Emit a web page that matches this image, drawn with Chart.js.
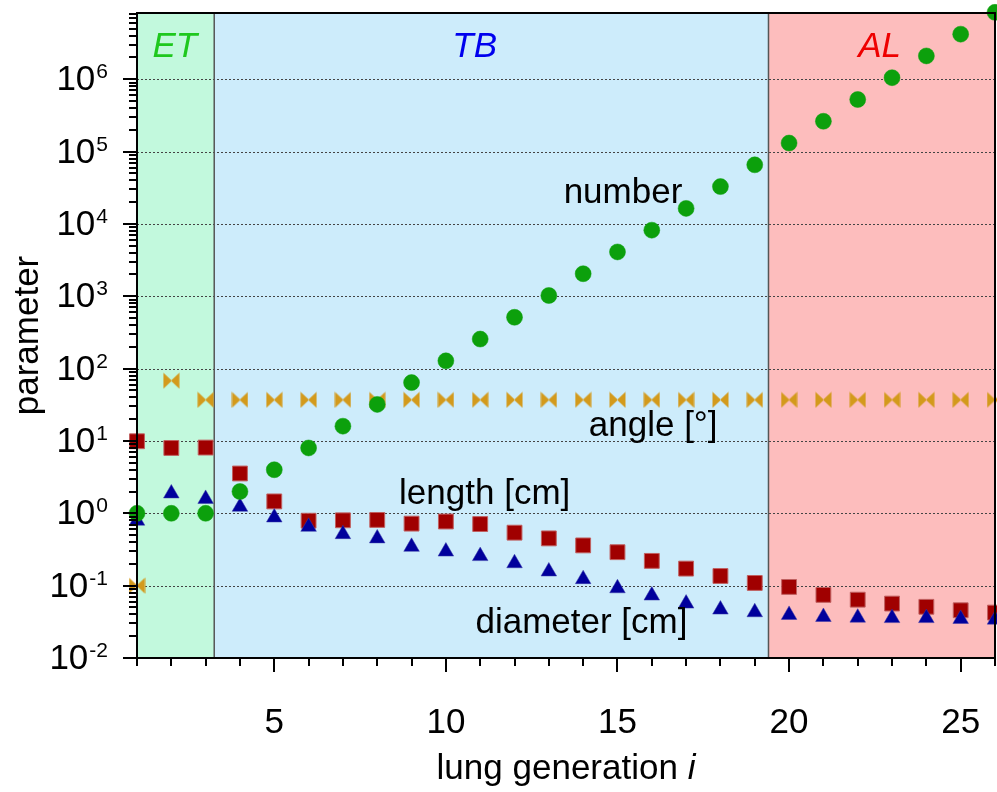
<!DOCTYPE html>
<html>
<head>
<meta charset="utf-8">
<script src="https://cdn.jsdelivr.net/npm/chart.js@4.4.1/dist/chart.umd.min.js"></script>
<style>
  html, body { margin: 0; padding: 0; background: #fff; }
  #wrap { width: 997px; height: 792px; position: relative; }
</style>
</head>
<body>
<div id="wrap"><canvas id="lungChart"></canvas></div>
<script>
// lung generation i
const generations = [1, 2, 3, 4, 5, 6, 7, 8, 9, 10, 11, 12, 13, 14, 15, 16, 17, 18, 19, 20, 21, 22, 23, 24, 25, 26];

// values
const numberValues = [1, 1, 1, 2, 4, 8, 16, 32, 64, 128, 256, 512, 1024, 2048, 4096, 8192,
  16384, 32768, 65536, 131072, 262144, 524288, 1048576, 2097152, 4194304, 8388608];
const angleValues = [0.1, 68, 37, 37, 37, 37, 37, 37, 37, 37, 37, 37, 37, 37, 37, 37,
  37, 37, 37, 37, 37, 37, 37, 37, 37, 37];
const lengthValues = [9.9, 8.0, 8.1, 3.55, 1.46, 0.79, 0.8, 0.81, 0.72, 0.77, 0.71, 0.54, 0.45, 0.36, 0.29, 0.22,
  0.172, 0.136, 0.109, 0.096, 0.0745, 0.064, 0.0565, 0.051, 0.0457, 0.0424];
const diameterValues = [0.79, 1.88, 1.58, 1.23, 0.875, 0.65, 0.515, 0.45, 0.344, 0.296, 0.256, 0.204, 0.157, 0.123, 0.092, 0.073,
  0.0565, 0.0467, 0.0429, 0.0394, 0.0369, 0.0361, 0.0356, 0.0356, 0.0347, 0.0339];

// regions along the x axis
const regionNames = ["ET", "TB", "AL"];
const regionEdges = [1, 3.25, 19.4, 26];

// axis ticks
const xTickLabels = [5, 10, 15, 20, 25];
const yDecades = [-2, -1, 0, 1, 2, 3, 4, 5, 6];

const FONT = "'Liberation Sans', Arial, sans-serif";

function makeBowtie(color) {
    const c = document.createElement("canvas");
    c.width = 17;
    c.height = 17;
    const g = c.getContext("2d");
    g.fillStyle = color;
    g.beginPath();
    g.moveTo(0.5, 0.5); g.lineTo(9, 8.5); g.lineTo(0.5, 16.5); g.closePath();
    g.moveTo(16.5, 0.5); g.lineTo(8, 8.5); g.lineTo(16.5, 16.5); g.closePath();
    g.fill();
    return c;
}

function toPoints(values) {
    return generations.map((g, k) => ({ x: g, y: values[k] }));
}

const lungDecor = {
    id: "lungDecor",
    beforeDatasetsDraw(chart) {
        const { ctx, chartArea: a, scales: { x, y } } = chart;
        const fills = ["#c2f9dd", "#cdecfb", "#fdbdbd"];
        ctx.save();
        for (let k = 0; k < regionNames.length; k++) {
            const x0 = x.getPixelForValue(regionEdges[k]);
            const x1 = x.getPixelForValue(regionEdges[k + 1]);
            ctx.fillStyle = fills[k];
            ctx.fillRect(x0, a.top, x1 - x0, a.bottom - a.top);
        }
        // dotted grid at each decade
        ctx.strokeStyle = "#444";
        ctx.lineWidth = 1;
        ctx.setLineDash([2, 2]);
        yDecades.forEach(d => {
            const py = Math.round(y.getPixelForValue(Math.pow(10, d))) + 0.5;
            ctx.beginPath();
            ctx.moveTo(a.left, py);
            ctx.lineTo(a.right, py);
            ctx.stroke();
        });
        ctx.setLineDash([]);
        // region dividers
        ctx.strokeStyle = "#555";
        ctx.lineWidth = 1.5;
        [regionEdges[1], regionEdges[2]].forEach(v => {
            const px = x.getPixelForValue(v);
            ctx.beginPath();
            ctx.moveTo(px, a.top);
            ctx.lineTo(px, a.bottom);
            ctx.stroke();
        });
        // region names
        const nameColors = ["#1ec81e", "#0000ee", "#ee0000"];
        const nameX = [2.1, 10.84, 22.64];
        ctx.font = "italic 35px " + FONT;
        ctx.textAlign = "center";
        ctx.textBaseline = "alphabetic";
        regionNames.forEach((n, k) => {
            ctx.fillStyle = nameColors[k];
            ctx.fillText(n, x.getPixelForValue(nameX[k]), y.getPixelForValue(2.0e6));
        });
        ctx.restore();
    },
    afterDatasetsDraw(chart) {
        const { ctx, chartArea: a, scales: { x, y } } = chart;
        ctx.save();
        // series labels
        ctx.fillStyle = "#000";
        ctx.font = "35px " + FONT;
        ctx.textAlign = "center";
        ctx.textBaseline = "alphabetic";
        ctx.fillText("number", x.getPixelForValue(15.16), y.getPixelForValue(1.92e4));
        ctx.fillText("angle [°]", x.getPixelForValue(16.04), y.getPixelForValue(11.8));
        ctx.fillText("length [cm]", x.getPixelForValue(11.13), y.getPixelForValue(1.34));
        ctx.fillText("diameter [cm]", x.getPixelForValue(13.95), y.getPixelForValue(0.0224));

        // frame
        ctx.strokeStyle = "#000";
        ctx.lineWidth = 2;
        ctx.strokeRect(a.left, a.top, a.right - a.left, a.bottom - a.top);

        // x ticks
        ctx.lineWidth = 2;
        for (let i = Math.ceil(x.min); i <= x.max; i++) {
            const px = Math.round(x.getPixelForValue(i));
            const len = i % 5 === 0 ? 14 : 8;
            ctx.beginPath();
            ctx.moveTo(px, a.bottom);
            ctx.lineTo(px, a.bottom + len);
            ctx.stroke();
        }
        // y ticks
        for (let d = -2; d <= 6; d++) {
            for (let m = 1; m <= 9; m++) {
                const v = m * Math.pow(10, d);
                if (v > y.max) break;
                const py = Math.round(y.getPixelForValue(v));
                const len = m === 1 ? 14 : 8;
                ctx.beginPath();
                ctx.moveTo(a.left, py);
                ctx.lineTo(a.left - len, py);
                ctx.stroke();
            }
        }

        // x tick labels
        ctx.font = "35px " + FONT;
        ctx.textAlign = "center";
        xTickLabels.forEach(t => {
            ctx.fillText(String(t), x.getPixelForValue(t), a.bottom + 75);
        });
        // y tick labels 10^d
        const right = a.left - 29;
        yDecades.forEach(d => {
            const py = y.getPixelForValue(Math.pow(10, d));
            const sup = String(d);
            ctx.font = "21px " + FONT;
            const sw = ctx.measureText(sup).width;
            ctx.textAlign = "left";
            ctx.fillText(sup, right - sw, py - 1);
            ctx.font = "35px " + FONT;
            ctx.textAlign = "right";
            ctx.fillText("10", right - sw - 1, py + 11);
        });

        // axis titles
        ctx.font = "35px " + FONT;
        const t1 = "lung generation ";
        const w1 = ctx.measureText(t1).width;
        ctx.font = "italic 35px " + FONT;
        const w2 = ctx.measureText("i").width;
        const cx = (a.left + a.right) / 2;
        const startX = cx - (w1 + w2) / 2;
        ctx.textAlign = "left";
        ctx.font = "35px " + FONT;
        ctx.fillText(t1, startX, a.bottom + 121);
        ctx.font = "italic 35px " + FONT;
        ctx.fillText("i", startX + w1, a.bottom + 121);

        ctx.translate(38, (a.top + a.bottom) / 2);
        ctx.rotate(-Math.PI / 2);
        ctx.font = "35px " + FONT;
        ctx.textAlign = "center";
        ctx.fillText("parameter", 0, 0);
        ctx.restore();
    }
};

const ctx = document.getElementById("lungChart").getContext("2d");

let lungChart = new Chart(ctx, {
    type: "scatter",
    data: {
        datasets: [{
            label: "number",
            data: toPoints(numberValues),
            pointStyle: "circle",
            pointRadius: 8,
            pointBackgroundColor: "#0ca00c",
            pointBorderColor: "#0ca00c",
            pointBorderWidth: 0.5
        }, {
            label: "angle",
            data: toPoints(angleValues),
            pointStyle: makeBowtie("#d39a1c"),
            pointRadius: 8
        }, {
            label: "diameter",
            data: toPoints(diameterValues),
            pointStyle: "triangle",
            pointRadius: 9,
            pointBackgroundColor: "#00009c",
            pointBorderColor: "#3a3aa8",
            pointBorderWidth: 0.5
        }, {
            label: "length",
            data: toPoints(lengthValues),
            pointStyle: "rect",
            pointRadius: 10.5,
            pointBackgroundColor: "#a00000",
            pointBorderColor: "#c06060",
            pointBorderWidth: 1
        }]
    },
    options: {
        responsive: true,
        maintainAspectRatio: false,
        animation: false,
        clip: false,
        layout: { autoPadding: false, padding: { left: 137, right: 2, top: 13, bottom: 134 } },
        plugins: {
            legend: { display: false },
            tooltip: { enabled: false }
        },
        scales: {
            x: { type: "linear", min: 1, max: 26, display: false },
            y: { type: "logarithmic", min: 0.01, max: 8.22e6, display: false }
        }
    },
    plugins: [lungDecor]
});
</script>
</body>
</html>
